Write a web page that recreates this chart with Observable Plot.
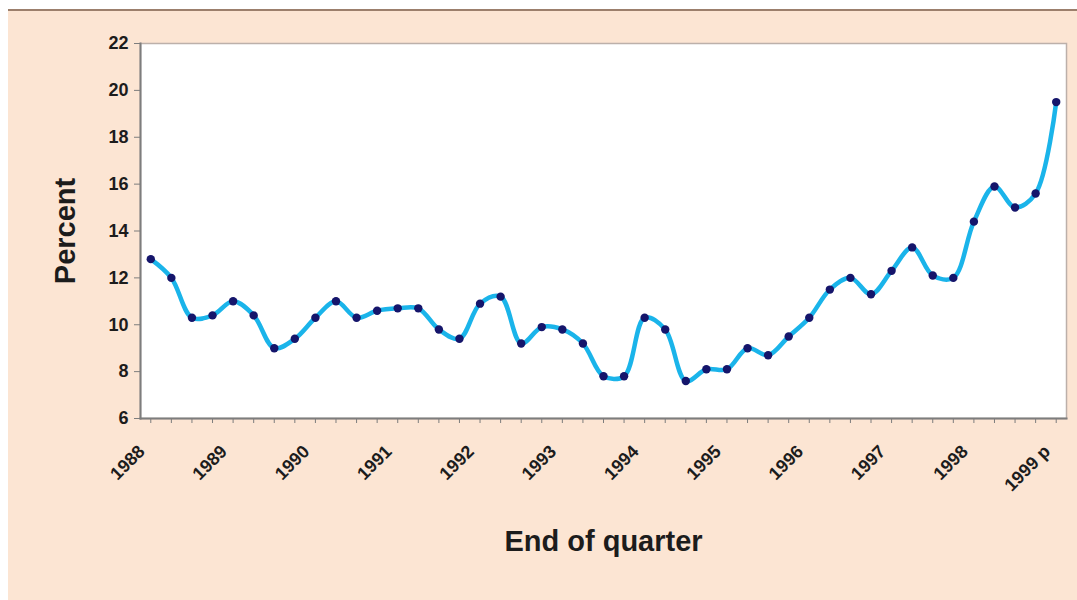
<!DOCTYPE html>
<html>
<head>
<meta charset="utf-8">
<script src="https://cdn.jsdelivr.net/npm/d3@7"></script>
<script src="https://cdn.jsdelivr.net/npm/@observablehq/plot@0.6"></script>
<style>
  html, body { margin: 0; padding: 0; background: #ffffff; }
  #panel {
    position: absolute; left: 8px; top: 9px;
    width: 1069px; height: 591px;
    background: #fce5d3;
    border-top: 2px solid #9c7f6c;
    box-sizing: border-box;
  }
  #panel svg { display: block; font-family: "Liberation Sans", Arial, sans-serif; }
</style>
</head>
<body>
<div id="panel"></div>
<script>
// Year labels shown on the category axis (one per year, at the first quarter)
const yearLabels = ["1988", "1989", "1990", "1991", "1992", "1993",
                    "1994", "1995", "1996", "1997", "1998", "1999 p"];

// Quarter categories, 1988 Q1 through 1999 Q1
const quarters = yearLabels.flatMap(y => ["Q1", "Q2", "Q3", "Q4"].map(q => `${y} ${q}`)).slice(0, 45);

// Percent at end of each quarter
const percent = [
  12.8, 12.0, 10.3, 10.4, 11.0, 10.4, 9.0, 9.4,
  10.3, 11.0, 10.3, 10.6, 10.7, 10.7, 9.8, 9.4,
  10.9, 11.2, 9.2, 9.9, 9.8, 9.2, 7.8, 7.8,
  10.3, 9.8, 7.6, 8.1, 8.1, 9.0, 8.7, 9.5,
  10.3, 11.5, 12.0, 11.3, 12.3, 13.3, 12.1, 12.0,
  14.4, 15.9, 15.0, 15.6, 19.5
];

// Y axis ticks
const yTicks = [6, 8, 10, 12, 14, 16, 18, 20, 22];

const rows = quarters.map((q, i) => ({quarter: q, value: percent[i]}));
const labelRows = quarters.filter(q => q.endsWith("Q1")).map(q => ({quarter: q, label: q.replace(" Q1", "")}));

const ink = "#1c1c1c";
const axisGray = "#7d7d7d";

const chart = Plot.plot({
  width: 1069,
  height: 589,
  marginLeft: 132,
  marginRight: 11,
  marginTop: 32,
  marginBottom: 182,
  style: {background: "transparent", fontFamily: "'Liberation Sans', Arial, sans-serif"},
  x: {type: "point", domain: quarters, padding: 0.5, round: false},
  y: {domain: [6, 22]},
  marks: [
    Plot.frame({fill: "#ffffff", stroke: "#bcb0aa", strokeWidth: 1.5}),
    // quarter tick marks under the category axis
    Plot.axisX({ticks: quarters, tickSize: 5, tickFormat: () => "", stroke: axisGray, label: null}),
    Plot.frame({anchor: "bottom", stroke: axisGray, strokeWidth: 2}),
    Plot.frame({anchor: "left", stroke: axisGray, strokeWidth: 2}),
    Plot.axisY({
      ticks: yTicks, tickSize: 6, tickPadding: 6,
      stroke: axisGray, fill: ink, fontSize: 18, fontWeight: "bold",
      label: null
    }),
    // rotated year labels
    Plot.text(labelRows, {
      x: "quarter", text: "label", frameAnchor: "bottom",
      rotate: -45, textAnchor: "end", lineAnchor: "middle",
      dx: -9, dy: 30, fontSize: 18, fontWeight: "bold", fill: ink
    }),
    Plot.line(rows, {x: "quarter", y: "value", curve: "catmull-rom", stroke: "#1ab4ea", strokeWidth: 4.5}),
    Plot.dot(rows, {x: "quarter", y: "value", r: 4.2, fill: "#15156b", stroke: "none"}),
    // axis titles
    Plot.text(["Percent"], {
      frameAnchor: "left", textAnchor: "middle", dx: -75, rotate: -90,
      fontSize: 29, fontWeight: "bold", fill: ink
    }),
    Plot.text(["End of quarter"], {
      frameAnchor: "bottom", textAnchor: "middle", dy: 132,
      fontSize: 29, fontWeight: "bold", fill: ink
    })
  ]
});

document.getElementById("panel").appendChild(chart);
</script>
</body>
</html>
